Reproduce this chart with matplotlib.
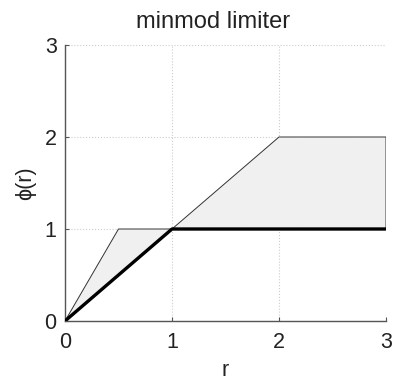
import matplotlib
matplotlib.use("Agg")
import matplotlib.pyplot as plt

# TVD region boundary (upper and lower) and minmod limiter
r_upper = [0, 0.5, 1, 2, 3]
phi_upper = [0, 1, 1, 2, 2]
r_lower = [0, 1, 3]
phi_lower = [0, 1, 1]
r_minmod = [0, 1, 3]
phi_minmod = [0, 1, 1]
ticks = [0, 1, 2, 3]

plt.rcParams["font.family"] = ["Liberation Sans", "DejaVu Sans"]

fig = plt.figure(figsize=(3.94, 3.85), dpi=100)
ax = fig.add_axes([65 / 394, 1 - 321 / 385, 321 / 394, 276 / 385])

poly_r = r_upper + r_lower[::-1]
poly_phi = phi_upper + phi_lower[::-1]
ax.fill(poly_r, poly_phi, facecolor="#f0f0f0", edgecolor="#333333", linewidth=0.7, zorder=2)
ax.plot(r_minmod, phi_minmod, color="black", linewidth=2.4, zorder=3)

ax.set_xlim(0, 3)
ax.set_ylim(0, 3)
ax.set_xticks(ticks)
ax.set_yticks(ticks)
ax.grid(True, color="#cccccc", linestyle=":", linewidth=0.8)
ax.set_axisbelow(True)
for s in ["top", "right"]:
    ax.spines[s].set_visible(False)
for s in ["left", "bottom"]:
    ax.spines[s].set_color("#555555")
    ax.spines[s].set_linewidth(1.0)
ax.tick_params(direction="in", length=3, color="#555555", labelsize=15.5, labelcolor="#222222")
ax.tick_params(axis="x", pad=8)
ax.tick_params(axis="y", pad=6)
ax.set_xlabel("r", fontsize=15.5, color="#222222", labelpad=5)
ax.set_ylabel("\u03d5(r)", fontsize=15.5, color="#222222", labelpad=6)
ax.set_title("minmod limiter", fontsize=17, color="#222222", pad=12, x=0.46)

fig.savefig("out.png", dpi=100)
